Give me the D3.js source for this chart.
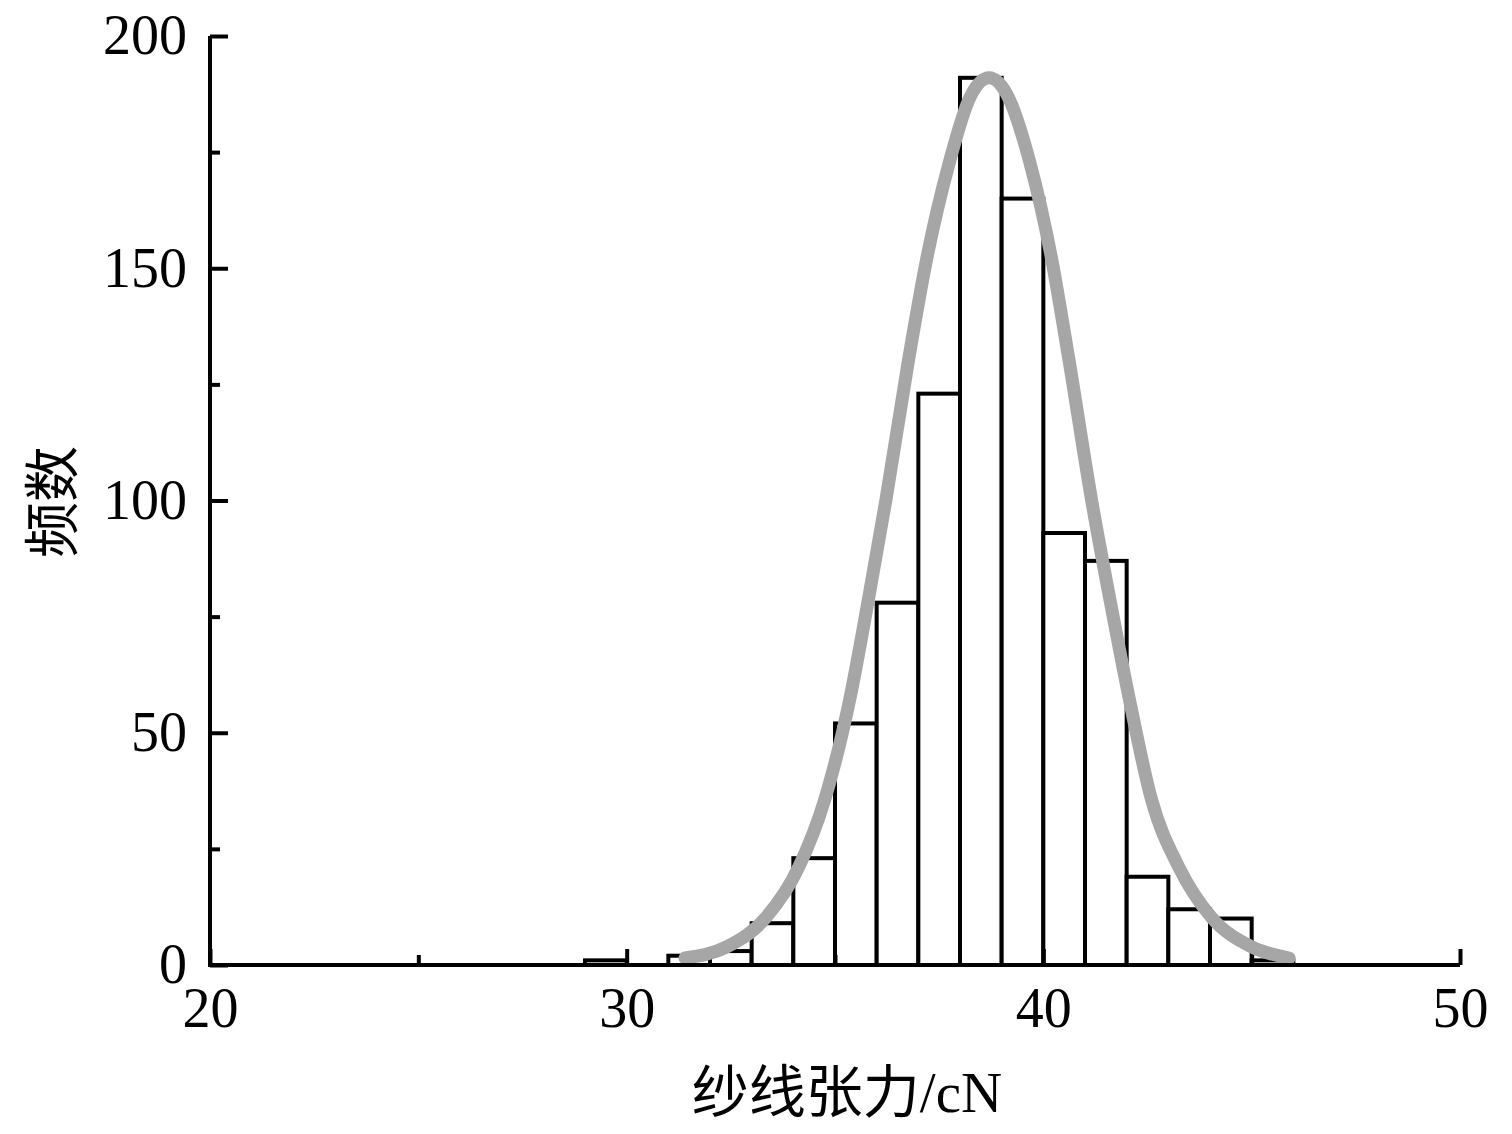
<!DOCTYPE html>
<html>
<head>
<meta charset="utf-8">
<script src="https://cdn.jsdelivr.net/npm/d3@7"></script>
<style>
  body { margin: 0; background: #fff; }
  text { font-family: "Liberation Serif", "Noto Sans CJK SC", serif; fill: #000; }
</style>
</head>
<body>
<div id="chart"></div>
<script>
// histogram bins (lower edge, count)
let binStart = [29, 30, 31, 32, 33, 34, 35, 36, 37, 38, 39, 40, 41, 42, 43, 44, 45];
let binCount = [1, 0, 2, 3, 9, 23, 52, 78, 123, 191, 165, 93, 87, 19, 12, 10, 1];
let binWidth = 1;

// fitted curve, points
let fitX = [31.4, 32.4, 33.35, 34.13, 34.75, 35.35, 35.8, 36.22, 36.76, 37.2, 37.75, 38.25, 38.7,
            39.15, 39.67, 40.2, 40.62, 41.16, 41.6, 42.07, 42.6, 43.25, 44.03, 45.0, 45.9];
let fitY = [1.5, 3.9, 10.3, 21.1, 35.5, 57, 78.6, 100, 130, 152, 173, 187, 191,
            187, 173, 152, 130, 100, 78.6, 57, 35.5, 21.1, 10.3, 3.9, 1.5];

let xMajor = [20, 30, 40, 50];
let xMinor = [25, 35, 45];
let yMajor = [0, 50, 100, 150, 200];
let yMinor = [25, 75, 125, 175];

let xTitle = "纱线张力/cN";
let yTitle = "频数";

let width = 1512, height = 1134;
let plotLeft = 210, plotRight = 1460, plotTop = 36, plotBottom = 965;

var svg = d3.select("#chart").append("svg")
	.attr("width", width)
	.attr("height", height);

var x = d3.scaleLinear().domain([20, 50]).range([plotLeft, plotRight]);
var y = d3.scaleLinear().domain([0, 200]).range([plotBottom, plotTop]);

var bins = binStart.map((s, i) => ({ x0: s, x1: s + binWidth, n: binCount[i] }))
	.filter(d => d.n > 0);

svg.selectAll(".bar")
	.data(bins)
	.enter().append("rect")
	.attr("class", "bar")
	.attr("x", d => x(d.x0))
	.attr("y", d => y(d.n))
	.attr("width", d => x(d.x1) - x(d.x0))
	.attr("height", d => y(0) - y(d.n))
	.style("fill", "#fff")
	.style("stroke", "#000")
	.style("stroke-width", 4);

var line = d3.line()
	.x(d => x(d[0]))
	.y(d => y(d[1]))
	.curve(d3.curveMonotoneX);

svg.append("path")
	.datum(fitX.map((v, i) => [v, fitY[i]]))
	.attr("d", line)
	.style("fill", "none")
	.style("stroke", "#a6a6a6")
	.style("stroke-width", 13)
	.style("stroke-linecap", "round");

// axes
var fontSize = 56;

svg.append("g")
	.attr("transform", "translate(0," + plotBottom + ")")
	.call(d3.axisBottom(x).tickValues(xMinor).tickSizeInner(-10).tickSizeOuter(0).tickFormat(""))
	.call(g => g.select(".domain").remove());

var xg = svg.append("g")
	.attr("transform", "translate(0," + plotBottom + ")")
	.call(d3.axisBottom(x).tickValues(xMajor).tickSizeInner(-16).tickSizeOuter(0).tickPadding(22));

svg.append("g")
	.attr("transform", "translate(" + plotLeft + ",0)")
	.call(d3.axisLeft(y).tickValues(yMinor).tickSizeInner(-10).tickSizeOuter(0).tickFormat(""))
	.call(g => g.select(".domain").remove());

var yg = svg.append("g")
	.attr("transform", "translate(" + plotLeft + ",0)")
	.call(d3.axisLeft(y).tickValues(yMajor).tickSizeInner(-18).tickSizeOuter(0).tickPadding(23));

svg.selectAll(".domain, .tick line")
	.style("stroke", "#000")
	.style("stroke-width", 4);

svg.selectAll(".tick text")
	.style("font-family", "'Liberation Serif', serif")
	.style("font-size", fontSize + "px");

xg.select(".domain").attr("d", "M" + plotLeft + ",0H" + plotRight);
yg.select(".domain").attr("d", "M0," + plotTop + "V" + (plotBottom + 2));

svg.append("text")
	.attr("x", 847)
	.attr("y", 1112)
	.attr("text-anchor", "middle")
	.style("font-size", "57px")
	.text(xTitle);

svg.append("text")
	.attr("transform", "translate(72,502) rotate(-90)")
	.attr("text-anchor", "middle")
	.style("font-size", "56px")
	.text(yTitle);
</script>
</body>
</html>
